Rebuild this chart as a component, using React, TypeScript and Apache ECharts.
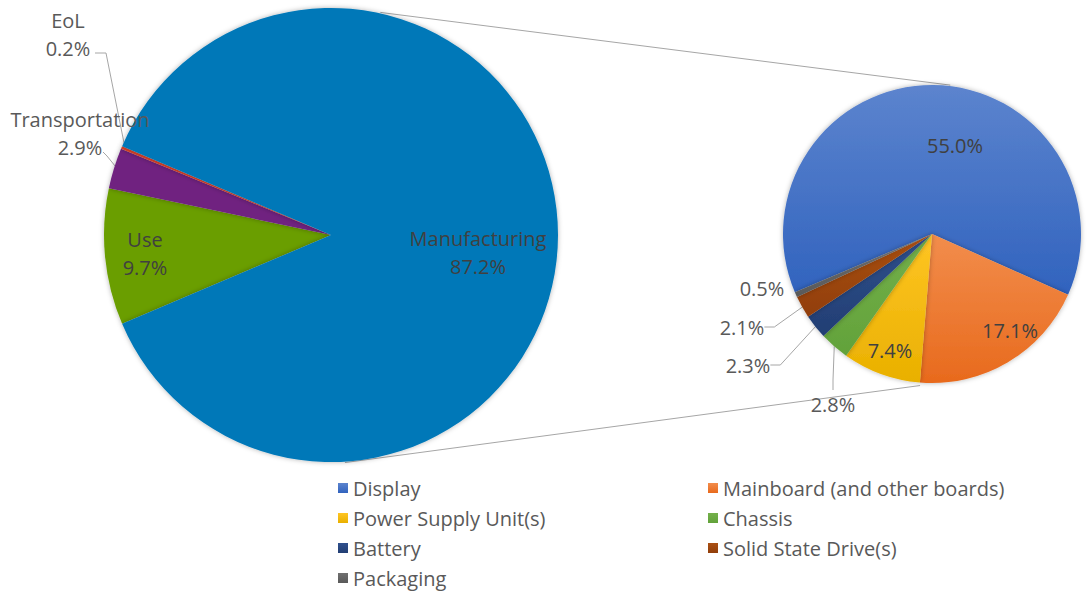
import React, { useEffect, useRef } from "react";
import * as echarts from "echarts";

// ---------- data ----------
const leftNames = ["Use", "Transportation", "EoL", "Manufacturing"];
const leftValues = [9.7, 2.9, 0.2, 87.2];
const rightNames = [
  "Display",
  "Mainboard (and other boards)",
  "Power Supply Unit(s)",
  "Chassis",
  "Battery",
  "Solid State Drive(s)",
  "Packaging",
];
const rightValues = [55.0, 17.1, 7.4, 2.8, 2.3, 2.1, 0.5];
const legendColumn1 = ["Display", "Power Supply Unit(s)", "Battery", "Packaging"];
const legendColumn2 = ["Mainboard (and other boards)", "Chassis", "Solid State Drive(s)"];

// ---------- styles ----------
const leftColors = ["#6a9e02", "#6f2380", "#d9432a", "#0178b8"];
const rightColorsTop = ["#5c84ce", "#f28d4c", "#ffc524", "#74b04b", "#2f508d", "#aa5013", "#707070"];
const rightColorsBottom = ["#3163be", "#e86a1d", "#e9b000", "#62a23a", "#223e73", "#913e0a", "#595959"];
const leftOutside = new Set(["Transportation", "EoL"]);
const rightOutside = new Set(["Chassis", "Battery", "Solid State Drive(s)", "Packaging"]);
const noLeader = new Set(["Packaging"]);

// label centres (layout only)
const leftLabelPos: Record<string, [number, number]> = {
  Use: [145, 253],
  Transportation: [80, 133],
  EoL: [68, 34],
  Manufacturing: [478, 252],
};
const rightLabelPos: Record<string, [number, number]> = {
  Display: [955, 145],
  "Mainboard (and other boards)": [1010, 330],
  "Power Supply Unit(s)": [890, 350],
  Chassis: [833, 404],
  Battery: [748, 365],
  "Solid State Drive(s)": [742, 327],
  Packaging: [762, 288],
};
// leader line elbows for left outside labels (layout only)
const leftLeaderStart: Record<string, [number, number][]> = {
  EoL: [[95, 53], [106, 53]],
  Transportation: [[103, 152], [107, 156]],
};

const FONT = "'Open Sans', 'Liberation Sans', sans-serif";
const LEFT_C: [number, number] = [331, 235];
const LEFT_R = 227;
const RIGHT_C: [number, number] = [932, 234];
const RIGHT_R = 149;

function polar(c: [number, number], r: number, deg: number): [number, number] {
  const a = (deg * Math.PI) / 180;
  return [c[0] + r * Math.cos(a), c[1] - r * Math.sin(a)];
}

export default function App() {
  const ref = useRef<HTMLDivElement>(null);
  useEffect(() => {
    if (!ref.current) return;
    const chart = echarts.init(ref.current, undefined, { renderer: "svg" });

    const leftTotal = leftValues.reduce((a, b) => a + b, 0);
    const otherShare = (leftTotal - leftValues[leftValues.length - 1]) / leftTotal;
    const leftStart = 180 + (otherShare * 360) / 2;

    // mid angle of each left slice (clockwise from start)
    const leftMid: number[] = [];
    let acc = 0;
    leftValues.forEach((v) => {
      leftMid.push(leftStart - ((acc + v / 2) / leftTotal) * 360);
      acc += v;
    });

    const leftData = leftNames.map((n, i) => ({
      name: n,
      value: leftValues[i],
      itemStyle: { color: leftColors[i] },
      label: leftOutside.has(n)
        ? { position: "outside", color: "#595959" }
        : { position: "inside", color: "#404040" },
      labelLine: { show: leftOutside.has(n) },
    }));

    const rightData = rightNames.map((n, i) => ({
      name: n,
      value: rightValues[i],
      itemStyle: {
        color: new echarts.graphic.LinearGradient(0, 0, 0, 1, [
          { offset: 0, color: rightColorsTop[i] },
          { offset: 1, color: rightColorsBottom[i] },
        ]),
      },
      label: rightOutside.has(n)
        ? { position: "outside", color: "#595959" }
        : { position: "inside", color: "#404040" },
      labelLine: { show: rightOutside.has(n) && !noLeader.has(n) },
    }));

    const p1 = polar(LEFT_C, LEFT_R + 1, 77.5);
    const p2 = polar(RIGHT_C, RIGHT_R + 1, 83);
    const p3 = polar(LEFT_C, LEFT_R + 1, -86.5);
    const p4 = polar(RIGHT_C, RIGHT_R + 3, -94.5);

    const legendBase = {
      orient: "vertical",
      top: 473,
      height: 130,
      itemWidth: 10,
      itemHeight: 10,
      itemGap: 10,
      icon: "rect",
      selectedMode: false,
      textStyle: {
        fontFamily: FONT,
        fontSize: 20,
        color: "#595959",
        lineHeight: 20,
      },
    };

    const labelCommon = {
      show: true,
      fontFamily: FONT,
      fontSize: 20,
      lineHeight: 28,
    };

    chart.setOption({
      animation: false,
      backgroundColor: "#ffffff",
      legend: [
        { ...legendBase, left: 333, data: legendColumn1 },
        { ...legendBase, left: 703, data: legendColumn2 },
      ],
      graphic: [
        {
          type: "line",
          shape: { x1: p1[0], y1: p1[1], x2: p2[0], y2: p2[1] },
          style: { stroke: "#a6a6a6", lineWidth: 1 },
          z: -1,
        },
        {
          type: "line",
          shape: { x1: p3[0], y1: p3[1], x2: p4[0], y2: p4[1] },
          style: { stroke: "#a6a6a6", lineWidth: 1 },
          z: -1,
        },
      ],
      series: [
        {
          type: "pie",
          center: LEFT_C,
          radius: LEFT_R,
          startAngle: leftStart,
          clockwise: true,
          avoidLabelOverlap: false,
          itemStyle: { shadowBlur: 5, shadowColor: "rgba(0,0,0,0.3)" },
          label: {
            ...labelCommon,
            formatter: (p: any) => `${p.name}\n${Number(p.value).toFixed(1)}%`,
          },
          labelLine: { lineStyle: { color: "#a6a6a6", width: 1 }, length: 10, length2: 10 },
          labelLayout: (p: any) => {
            const name = leftNames[p.dataIndex];
            const pos = leftLabelPos[name];
            const res: any = { x: pos[0], y: pos[1], align: "center", verticalAlign: "middle" };
            if (leftLeaderStart[name]) {
              res.labelLinePoints = [
                ...leftLeaderStart[name],
                polar(LEFT_C, LEFT_R - 4, leftMid[p.dataIndex]),
              ];
            }
            return res;
          },
          emphasis: { disabled: true },
          data: leftData,
        },
        {
          type: "pie",
          center: RIGHT_C,
          radius: RIGHT_R,
          startAngle: 203,
          clockwise: true,
          avoidLabelOverlap: false,
          itemStyle: { shadowBlur: 5, shadowColor: "rgba(0,0,0,0.3)" },
          label: {
            ...labelCommon,
            formatter: (p: any) => `${Number(p.value).toFixed(1)}%`,
          },
          labelLine: { lineStyle: { color: "#a6a6a6", width: 1 }, length: 10, length2: 10 },
          labelLayout: (p: any) => {
            const pos = rightLabelPos[rightNames[p.dataIndex]];
            return { x: pos[0], y: pos[1], align: "center", verticalAlign: "middle" };
          },
          emphasis: { disabled: true },
          data: rightData,
        },
      ],
    });
    return () => chart.dispose();
  }, []);

  return (
    <div
      ref={ref}
      style={{ position: "fixed", left: 0, top: 0, width: 1089, height: 591, background: "#fff" }}
    />
  );
}
